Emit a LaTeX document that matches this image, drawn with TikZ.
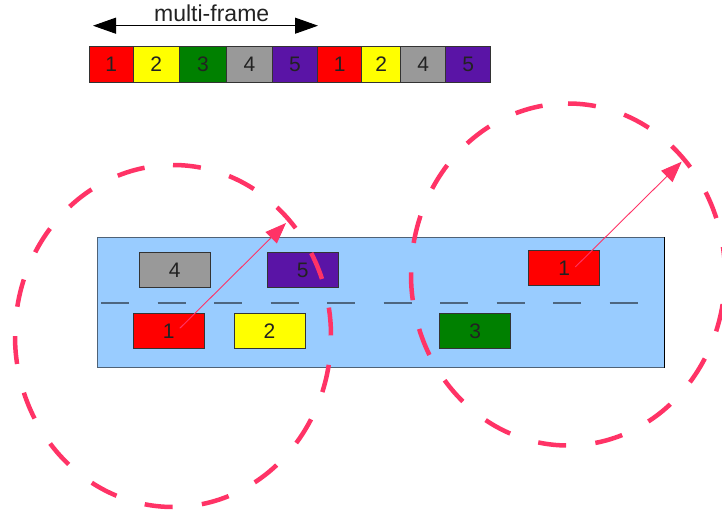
\documentclass[tikz,border=0pt]{standalone}
\usepackage{fontspec}
\setmainfont{Liberation Sans}
\usetikzlibrary{arrows.meta}

\definecolor{roadblue}{HTML}{99CCFF}
\definecolor{roadedge}{HTML}{4F6276}
\definecolor{lanegray}{HTML}{4D6680}
\definecolor{ringpink}{HTML}{FF3366}
\definecolor{txt}{HTML}{222222}
\definecolor{fred}{HTML}{FF0000}
\definecolor{fyellow}{HTML}{FFFF00}
\definecolor{fgreen}{HTML}{008000}
\definecolor{fgray}{HTML}{999999}
\definecolor{fpurple}{HTML}{5A14A6}

\tikzset{
  slot/.style={draw=black!80, line width=0.8pt, minimum height=36pt, inner sep=0pt,
    text=txt, font=\fontsize{21}{21}\selectfont},
  car/.style={draw=black!80, line width=0.9pt, minimum width=71pt, minimum height=35pt,
    inner sep=0pt, text=txt, font=\fontsize{21}{21}\selectfont},
  road/.style={draw=roadedge, line width=1pt, fill=roadblue, inner sep=0pt},
  lane/.style={draw=lanegray, line width=1.8pt},
  ring/.style={draw=ringpink, line width=4.5pt, dash pattern=on 28pt off 29.5pt},
  reach/.style={draw=ringpink, line width=0.9pt,
    -{Triangle[length=21pt,width=16pt]}},
  span/.style={draw=black, line width=1pt,
    {Triangle[length=23pt,width=16pt]}-{Triangle[length=23pt,width=16pt]}},
}

\begin{document}
\begin{tikzpicture}[x=1pt,y=-1pt]
  \useasboundingbox (0,0) rectangle (722,516);

  % multi-frame span
  \coordinate (mfL) at (93,25.7);
  \coordinate (mfR) at (318,25.7);
  \draw[span] (mfL) -- (mfR);
  \node[text=txt, font=\fontsize{23}{23}\selectfont, anchor=base] (mflabel) at (211.7,21.5) {multi-frame};

  % frame slots
  \node[slot, fill=fred,    minimum width=44pt] (f1) at (111.3,64) {1};
  \node[slot, fill=fyellow, minimum width=46pt] (f2) at (156.3,64) {2};
  \node[slot, fill=fgreen,  minimum width=47.4pt] (f3) at (203.0,64) {3};
  \node[slot, fill=fgray,   minimum width=45.6pt] (f4) at (249.5,64) {4};
  \node[slot, fill=fpurple, minimum width=45.4pt] (f5) at (295.0,64) {5};
  \node[slot, fill=fred,    minimum width=44pt] (f6) at (339.7,64) {1};
  \node[slot, fill=fyellow, minimum width=39pt] (f7) at (381.2,64) {2};
  \node[slot, fill=fgray,   minimum width=45pt] (f8) at (423.2,64) {4};
  \node[slot, fill=fpurple, minimum width=45pt] (f9) at (468.2,64) {5};

  % road and lane marking
  \node[road, minimum width=566.6pt, minimum height=130.2pt] (road) at (381,302.6) {};
  \draw[black, line width=1pt] (road.north east) -- (road.south east);
  \foreach \i in {0,...,9}
    \draw[lane] (101+56.5*\i,302.7) -- ++(28,0);

  % vehicles
  \node[car, fill=fgray]   (carA4) at (174.8,270) {4};
  \node[car, fill=fpurple] (carA5) at (302.8,270) {5};
  \node[car, fill=fred]    (carA1) at (168.8,331.3) {1};
  \node[car, fill=fyellow] (carA2) at (269.5,331.3) {2};
  \node[car, fill=fgreen]  (carB3) at (475.3,331.3) {3};
  \node[car, fill=fred]    (carB1) at (564.3,268) {1};

  % transmission ranges
  \draw[ring] (173,165) arc[start angle=270, end angle=630, x radius=158, y radius=171];
  \draw[ring] (568,103.5) arc[start angle=270, end angle=630, x radius=157, y radius=171];

  % range arrows
  \coordinate (tipA) at (286,223);
  \coordinate (tipB) at (681.7,161.7);
  \draw[reach] ([shift={(11,-3)}]carA1.center) -- (tipA);
  \draw[reach] ([shift={(11,-1)}]carB1.center) -- (tipB);
\end{tikzpicture}
\end{document}
